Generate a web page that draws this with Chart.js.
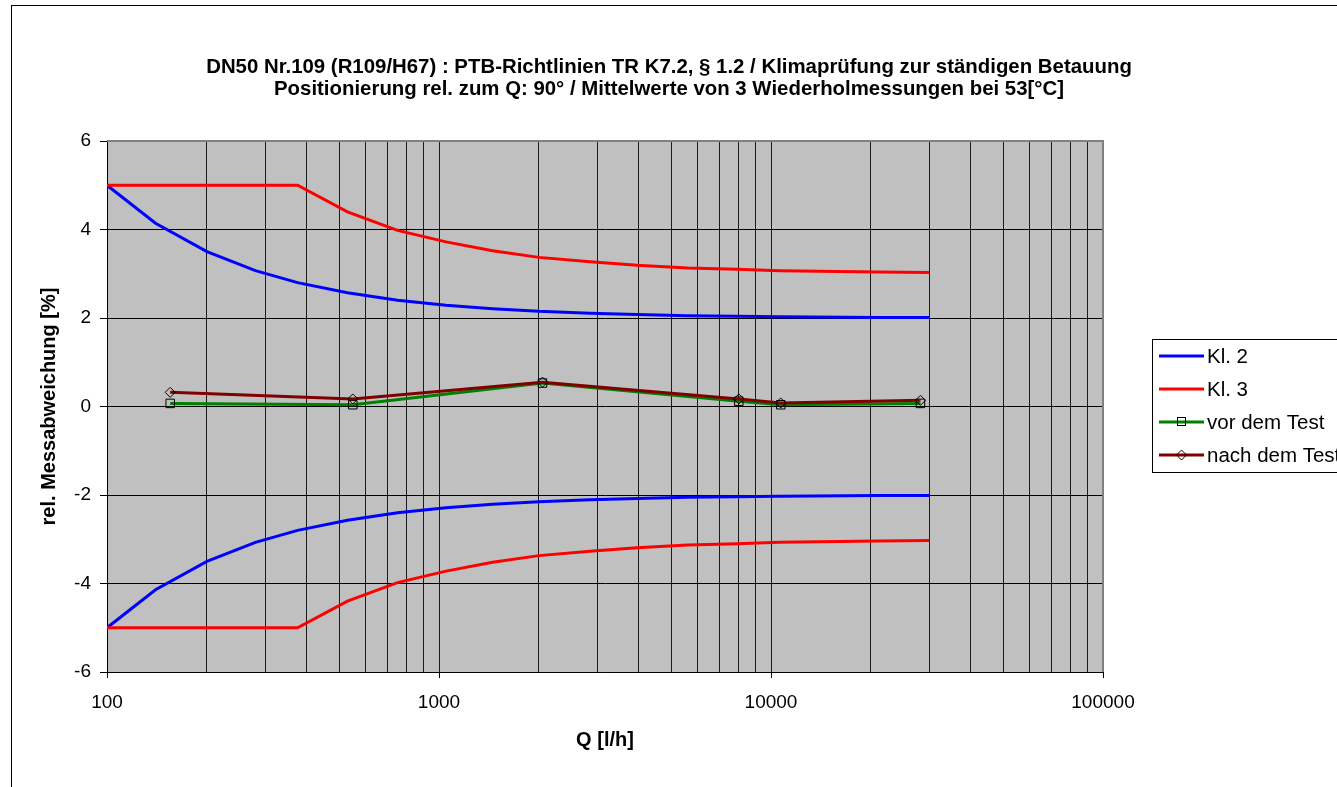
<!DOCTYPE html>
<html>
<head>
<meta charset="utf-8">
<script src="https://cdn.jsdelivr.net/npm/chart.js@4.4.1/dist/chart.umd.min.js"></script>
<style>
  html, body { margin: 0; padding: 0; background: #fff; }
  #wrap { width: 1337px; height: 787px; }
</style>
</head>
<body>
<div id="wrap"><canvas id="klimaChart" width="1337" height="787"></canvas></div>
<script>
// Fehlergrenzen (Q in l/h, Abweichung in %)
var qLimits = [100, 140, 200, 280, 375, 530, 750, 1050, 1450, 2000, 2850, 3950, 5600, 7900, 10600, 21000, 30000];
var kl2Upper = [5.0, 4.14, 3.5, 3.07, 2.8, 2.57, 2.4, 2.29, 2.21, 2.15, 2.11, 2.08, 2.05, 2.04, 2.03, 2.01, 2.01];
var kl2Lower = [-5.0, -4.14, -3.5, -3.07, -2.8, -2.57, -2.4, -2.29, -2.21, -2.15, -2.11, -2.08, -2.05, -2.04, -2.03, -2.01, -2.01];
var kl3Upper = [5.0, 5.0, 5.0, 5.0, 5.0, 4.4, 3.98, 3.72, 3.52, 3.37, 3.27, 3.19, 3.13, 3.1, 3.07, 3.04, 3.03];
var kl3Lower = [-5.0, -5.0, -5.0, -5.0, -5.0, -4.4, -3.98, -3.72, -3.52, -3.37, -3.27, -3.19, -3.13, -3.1, -3.07, -3.04, -3.03];

// Messwerte
var qTest = [155, 550, 2050, 8000, 10700, 28200];
var vorTest = [0.07, 0.04, 0.53, 0.12, 0.04, 0.07];
var nachTest = [0.32, 0.17, 0.55, 0.17, 0.08, 0.14];

var xTickLabels = ["100", "1000", "10000", "100000"];
var yTicks = [-6, -4, -2, 0, 2, 4, 6];

var titleLines = [
  "DN50 Nr.109 (R109/H67) : PTB-Richtlinien TR K7.2, § 1.2 / Klimaprüfung zur ständigen Betauung",
  "Positionierung rel. zum Q: 90° / Mittelwerte von 3 Wiederholmessungen bei 53[°C]"
];

// log grid: 1..9 per decade
var gridQ = [];
[100, 1000, 10000].forEach(function (d) {
  for (var m = 1; m < 10; m++) gridQ.push(m * d);
});
gridQ.push(100000);

function pts(xs, ys) {
  return xs.map(function (x, i) { return { x: x, y: ys[i] }; });
}

var FONT = "'Liberation Sans', Arial, sans-serif";

var legendItems = [
  { text: "Kl. 2", color: "#0000ff", marker: null },
  { text: "Kl. 3", color: "#ff0000", marker: null },
  { text: "vor dem Test", color: "#008000", marker: "square" },
  { text: "nach dem Test", color: "#800000", marker: "diamond" }
];

var framePlugin = {
  id: "frame",
  beforeDraw: function (chart) {
    var ctx = chart.ctx, a = chart.chartArea;
    ctx.save();
    ctx.fillStyle = "#c0c0c0";
    ctx.fillRect(a.left, a.top, a.right - a.left, a.bottom - a.top);
    ctx.restore();
  },
  afterDraw: function (chart) {
    var ctx = chart.ctx, a = chart.chartArea;
    ctx.save();
    // plot frame top/right
    ctx.strokeStyle = "#808080";
    ctx.lineWidth = 2;
    ctx.beginPath();
    ctx.moveTo(a.left, a.top);
    ctx.lineTo(a.right, a.top);
    ctx.lineTo(a.right, a.bottom);
    ctx.stroke();
    // outer border
    ctx.strokeStyle = "#000";
    ctx.lineWidth = 1;
    ctx.strokeRect(11.5, 5.5, 1400, 900);
    // title
    ctx.fillStyle = "#000";
    ctx.font = "bold 20.4px " + FONT;
    ctx.textAlign = "center";
    ctx.textBaseline = "middle";
    ctx.fillText(titleLines[0], 669, 67);
    ctx.fillText(titleLines[1], 669, 89);
    // legend
    var lx = 1152.5, ly = 339.5;
    ctx.strokeRect(lx, ly, 250, 133);
    ctx.font = "20.5px " + FONT;
    ctx.textAlign = "left";
    legendItems.forEach(function (it, i) {
      var y = 356 + i * 33;
      ctx.strokeStyle = it.color;
      ctx.lineWidth = 3;
      ctx.beginPath();
      ctx.moveTo(1159, y);
      ctx.lineTo(1204, y);
      ctx.stroke();
      ctx.strokeStyle = "#000";
      ctx.lineWidth = 1;
      if (it.marker === "square") {
        ctx.strokeRect(1177.5, y - 4.5, 8, 8);
      } else if (it.marker === "diamond") {
        ctx.beginPath();
        ctx.moveTo(1181.5, y - 5);
        ctx.lineTo(1186.5, y);
        ctx.lineTo(1181.5, y + 5);
        ctx.lineTo(1176.5, y);
        ctx.closePath();
        ctx.stroke();
      }
      ctx.fillStyle = "#000";
      ctx.fillText(it.text, 1207, y + 1);
    });
    ctx.restore();
  }
};

new Chart("klimaChart", {
  type: "line",
  data: {
    datasets: [
      { label: "Kl. 2", data: pts(qLimits, kl2Upper), borderColor: "#0000ff", borderWidth: 3, pointRadius: 0, order: 3 },
      { label: "Kl. 2 unten", data: pts(qLimits, kl2Lower), borderColor: "#0000ff", borderWidth: 3, pointRadius: 0, order: 3 },
      { label: "Kl. 3", data: pts(qLimits, kl3Upper), borderColor: "#ff0000", borderWidth: 3, pointRadius: 0, order: 2 },
      { label: "Kl. 3 unten", data: pts(qLimits, kl3Lower), borderColor: "#ff0000", borderWidth: 3, pointRadius: 0, order: 2 },
      {
        label: "vor dem Test", data: pts(qTest, vorTest), borderColor: "#008000", borderWidth: 3,
        pointStyle: "rect", pointRadius: 6, pointBorderColor: "#000", pointBorderWidth: 1,
        pointBackgroundColor: "rgba(0,0,0,0)", order: 1
      },
      {
        label: "nach dem Test", data: pts(qTest, nachTest), borderColor: "#800000", borderWidth: 3,
        pointStyle: "rectRot", pointRadius: 5, pointBorderColor: "#000", pointBorderWidth: 1,
        pointBackgroundColor: "rgba(0,0,0,0)", order: 0
      }
    ]
  },
  options: {
    responsive: false,
    animation: false,
    layout: { padding: { left: 0, right: 234, top: 141, bottom: 0 } },
    plugins: {
      legend: { display: false },
      tooltip: { enabled: false },
      title: { display: false }
    },
    scales: {
      x: {
        type: "logarithmic",
        min: 100,
        max: 100000,
        afterBuildTicks: function (scale) {
          scale.ticks = gridQ.map(function (v) { return { value: v }; });
        },
        afterFit: function (scale) { scale.height = 115; },
        ticks: {
          autoSkip: false,
          maxRotation: 0,
          padding: 13,
          color: "#000",
          font: { family: FONT, size: 19 },
          callback: function (v) {
            var s = String(v);
            return xTickLabels.indexOf(s) >= 0 ? s : "";
          }
        },
        grid: {
          color: "#1a1a1a",
          lineWidth: 1,
          tickLength: 6,
          tickColor: function (c) {
            return c.tick && xTickLabels.indexOf(String(c.tick.value)) >= 0 ? "#000" : "rgba(0,0,0,0)";
          }
        },
        border: { color: "#000", width: 1 },
        title: {
          display: true,
          text: "Q [l/h]",
          color: "#000",
          font: { family: FONT, size: 20, weight: "bold" },
          padding: { top: 0, bottom: 35 }
        }
      },
      y: {
        min: -6,
        max: 6,
        afterBuildTicks: function (scale) {
          scale.ticks = yTicks.map(function (v) { return { value: v }; });
        },
        afterFit: function (scale) { scale.width = 107; },
        ticks: {
          padding: 9,
          color: "#000",
          font: { family: FONT, size: 19 }
        },
        grid: { color: "#000", lineWidth: 1, tickLength: 7, tickColor: "#000" },
        border: { color: "#000", width: 1 },
        title: {
          display: true,
          text: "rel. Messabweichung [%]",
          color: "#000",
          font: { family: FONT, size: 20, weight: "bold" },
          padding: { top: 37, bottom: 0 }
        }
      }
    }
  },
  plugins: [framePlugin]
});
</script>
</body>
</html>
